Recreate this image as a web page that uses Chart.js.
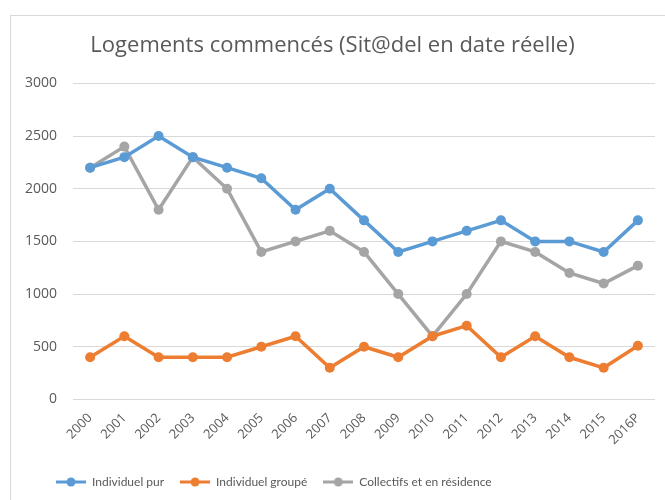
<!DOCTYPE html>
<html>
<head>
<meta charset="utf-8">
<script src="https://cdn.jsdelivr.net/npm/chart.js@4"></script>
<style>
  body { margin: 0; background: #fff; }
  #wrap { position: relative; width: 665px; height: 500px; overflow: hidden; }
  #frame { position: absolute; left: 10px; top: 15px; width: 670px; height: 500px; border: 1px solid #d9d9d9; box-sizing: border-box; }
  canvas { position: absolute; left: 0; top: 0; }
</style>
</head>
<body>
<div id="wrap">
  <div id="frame"></div>
  <canvas id="chart" width="665" height="500"></canvas>
</div>
<script>
const years = ['2000', '2001', '2002', '2003', '2004', '2005', '2006', '2007', '2008', '2009', '2010', '2011', '2012', '2013', '2014', '2015', '2016P'];
const individuelPur = [2200, 2300, 2500, 2300, 2200, 2100, 1800, 2000, 1700, 1400, 1500, 1600, 1700, 1500, 1500, 1400, 1700];
const individuelGroupe = [400, 600, 400, 400, 400, 500, 600, 300, 500, 400, 600, 700, 400, 600, 400, 300, 510];
const collectifs = [2200, 2400, 1800, 2300, 2000, 1400, 1500, 1600, 1400, 1000, 600, 1000, 1500, 1400, 1200, 1100, 1270];

const font = "'Open Sans', sans-serif";
const textColor = '#595959';

// little line + dot marker like the Excel legend
function legendMarker(color) {
    const c = document.createElement('canvas');
    c.width = 30; c.height = 12;
    const g = c.getContext('2d');
    g.strokeStyle = color;
    g.lineWidth = 3;
    g.beginPath(); g.moveTo(0, 6); g.lineTo(30, 6); g.stroke();
    g.fillStyle = color;
    g.beginPath(); g.arc(15, 6, 4.5, 0, Math.PI * 2); g.fill();
    return c;
}

function series(label, data, color) {
    return {
        label, data,
        borderColor: color, backgroundColor: color,
        borderWidth: 3.5, pointRadius: 5, pointHoverRadius: 5,
        pointBorderWidth: 0, tension: 0, marker: legendMarker(color)
    };
}

const shiftLegend = {
    id: 'shiftLegend',
    beforeDraw(chart) { chart.legend.left = 40; }
};

new Chart(document.getElementById('chart'), {
    type: 'line',
    data: {
        labels: years,
        datasets: [
            series('Individuel pur', individuelPur, '#5B9BD5'),
            series('Individuel groupé', individuelGroupe, '#ED7D31'),
            series('Collectifs et en résidence', collectifs, '#A5A5A5')
        ]
    },
    options: {
        responsive: false,
        animation: false,
        layout: { padding: { left: 10, right: 10, top: 33, bottom: 2 } },
        plugins: {
            title: {
                display: true,
                text: 'Logements commencés (Sit@del en date réelle)',
                color: textColor,
                font: { family: font, size: 22, weight: 'normal' },
                padding: { top: 0, bottom: 24 }
            },
            legend: {
                position: 'bottom',
                align: 'start',
                labels: {
                    color: textColor,
                    font: { family: 'Lato, sans-serif', size: 12 },
                    usePointStyle: true,
                    pointStyleWidth: 30,
                    padding: 16,
                    generateLabels(chart) {
                        const items = Chart.defaults.plugins.legend.labels.generateLabels(chart);
                        items.forEach(it => { it.pointStyle = chart.data.datasets[it.datasetIndex].marker; });
                        return items;
                    }
                }
            },
            tooltip: { enabled: false }
        },
        scales: {
            x: {
                offset: true,
                grid: { display: false },
                border: { display: false },
                ticks: { color: textColor, font: { family: font, size: 13 }, minRotation: 45, maxRotation: 45, autoSkip: false },
                afterFit(scale) { scale.height += 9; }
            },
            y: {
                min: 0, max: 3000,
                grid: { color: '#d9d9d9', lineWidth: 1, drawTicks: false },
                border: { display: false },
                ticks: {
                    stepSize: 500, color: textColor, font: { family: font, size: 14 }, padding: 16,
                    callback: v => String(v)
                },
                afterFit(scale) { scale.width = 63; }
            }
        }
    },
    plugins: [shiftLegend]
});
</script>
</body>
</html>
